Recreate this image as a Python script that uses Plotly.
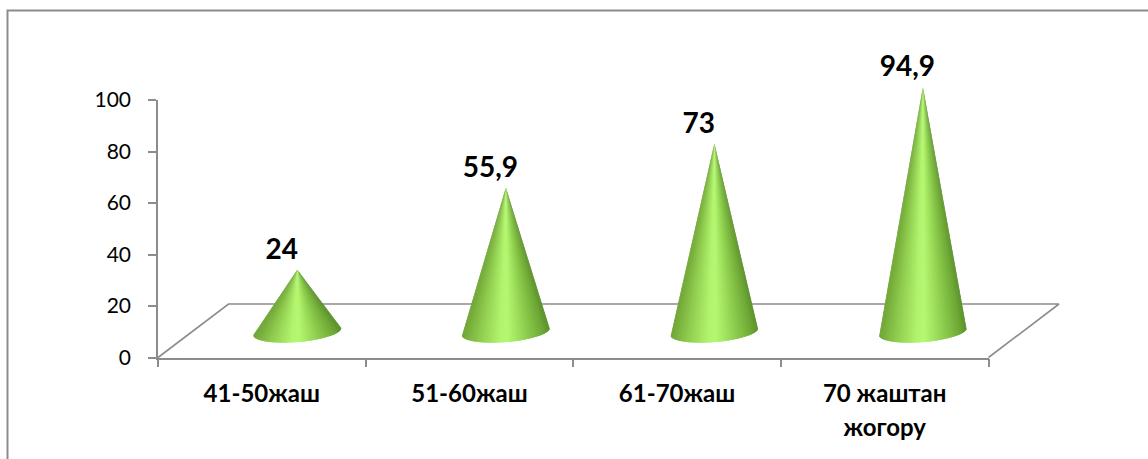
import math
import plotly.graph_objects as go

categories = ["41-50жаш", "51-60жаш", "61-70жаш", "70 жаштан"]
categories_line2 = ["", "", "", "жогору"]
values = [24, 55.9, 73, 94.9]
value_labels = ["24", "55,9", "73", "94,9"]
y_ticks = [0, 20, 40, 60, 80, 100]

W, H = 1148, 459
L, R, T, B = 158.0, 988.5, 100.0, 357.5
PX_X = (R - L) / 4
PX_Y = (B - T) / 100
GRAY = "#8c8c8c"
FONT = "Lato, Carlito, Calibri, sans-serif"

STOPS = [(-1.0, (112, 165, 54)), (-0.65, (140, 200, 76)), (-0.12, (178, 245, 110)),
         (0.05, (180, 247, 112)), (0.5, (140, 204, 76)), (0.85, (110, 168, 54)), (1.0, (92, 144, 44))]


def shade(t):
    for (a, ca), (b, cb) in zip(STOPS, STOPS[1:]):
        if t <= b:
            f = (t - a) / (b - a)
            return "rgb(%d,%d,%d)" % tuple(round(p + (q - p) * f) for p, q in zip(ca, cb))
    return "rgb(92,144,44)"


fig = go.Figure()

# keeps the visible axes alive
fig.add_trace(go.Scatter(x=[0.5, 1.5, 2.5, 3.5], y=values, mode="none", hoverinfo="skip", showlegend=False))

# 3-D floor (full-page axes with the same data units as the visible axes)
bx, by = 70.5 / PX_X, 53.5 / PX_Y
fig.add_trace(go.Scatter(x=[0, bx, 4 + bx, 4], y=[0, by, by, 0], mode="lines", xaxis="x3", yaxis="y3",
                         line=dict(color=GRAY, width=1.6), hoverinfo="skip", showlegend=False))

# cones
base_y = 25.9 / PX_Y
off_x = 35.5 / PX_X
step_x = 0.9 / PX_X
a_x, a_y, b_y = 44 / PX_X, 3.5 / PX_Y, 10.5 / PX_Y
N = 60
for i, v in enumerate(values):
    cx = i + 0.5 + off_x + i * step_x
    ax, ay = cx, base_y + v
    for k in range(N):
        # each slice runs one step past its end so that the next one covers the seam
        t0, t1 = math.pi * k / N, math.pi * min(k + 2, N) / N
        p0 = (cx + a_x * math.cos(t0), base_y + a_y * math.cos(t0) - b_y * math.sin(t0))
        p1 = (cx + a_x * math.cos(t1), base_y + a_y * math.cos(t1) - b_y * math.sin(t1))
        c = shade(math.cos(math.pi * (k + 0.5) / N))
        fig.add_trace(go.Scatter(x=[ax, p0[0], p1[0], ax], y=[ay, p0[1], p1[1], ay], mode="lines",
                                 xaxis="x3", yaxis="y3",
                                 fill="toself", fillcolor=c, line=dict(color=c, width=0),
                                 hoverinfo="skip", showlegend=False))

# value labels
fig.add_trace(go.Scatter(x=[i + 0.5 + off_x + i * step_x - 15.5 / PX_X for i in range(4)],
                         y=[base_y + v + 1.5 for v in values], mode="text", text=value_labels,
                         xaxis="x3", yaxis="y3", textposition="top center",
                         textfont=dict(family=FONT, size=28, color="#000000"),
                         texttemplate="<b>%{text}</b>", hoverinfo="skip", showlegend=False))

# second line of the category labels
fig.add_trace(go.Scatter(x=[0.5, 1.5, 2.5, 3.5], y=[(B - 430) / PX_Y] * 4, mode="text", text=categories_line2,
                         xaxis="x3", yaxis="y3", textposition="middle center",
                         textfont=dict(family=FONT, size=24, color="#000000"),
                         texttemplate="<b>%{text}</b>", hoverinfo="skip", showlegend=False))

# carries the category labels on the second x axis
fig.add_trace(go.Scatter(x=[0.5, 1.5, 2.5, 3.5], y=[0, 0, 0, 0], xaxis="x2", mode="none",
                         hoverinfo="skip", showlegend=False))

dom_x = [L / W, R / W]
dom_y = [1 - B / H, 1 - T / H]
fig.update_layout(
    width=W, height=H, autosize=False, paper_bgcolor="white", plot_bgcolor="rgba(0,0,0,0)",
    margin=dict(l=0, r=0, t=0, b=0, pad=0),
    xaxis=dict(domain=dom_x, range=[0, 4], tickmode="array", tickvals=[0, 1, 2, 3, 4], ticktext=[""] * 5,
               ticks="outside", ticklen=8, tickwidth=1.5, tickcolor=GRAY, showline=True, automargin=False,
               linecolor=GRAY, linewidth=1.5, showgrid=False, zeroline=False),
    xaxis2=dict(domain=dom_x, range=[0, 4], overlaying="x", side="bottom", anchor="y", tickmode="array",
                tickvals=[0.5, 1.5, 2.5, 3.5], ticktext=["<b>%s</b>" % c for c in categories],
                ticks="", ticklabelstandoff=19, showgrid=False, zeroline=False, showline=False, automargin=False,
                tickfont=dict(family=FONT, size=24, color="#000000")),
    yaxis=dict(domain=dom_y, range=[0, 100], tickmode="array", tickvals=y_ticks, ticks="outside", ticklen=8,
               tickwidth=1.5, tickcolor=GRAY, showline=True, linecolor=GRAY, linewidth=1.5, automargin=False,
               showgrid=False, zeroline=False, ticklabelstandoff=13,
               tickfont=dict(family=FONT, size=21, color="#000000")),
    xaxis3=dict(domain=[0, 1], range=[-L / PX_X, (W - L) / PX_X], anchor="y3", visible=False,
                automargin=False),
    yaxis3=dict(domain=[0, 1], range=[-(H - B) / PX_Y, B / PX_Y], anchor="x3", visible=False,
                automargin=False),
    shapes=[dict(type="path", xref="paper", yref="paper",
                 path="M %f %f L %f %f L %f %f" % (7.5 / W, -0.02, 7.5 / W, 1 - 10.5 / H, 1.01, 1 - 10.5 / H),
                 line=dict(color=GRAY, width=2))],
)

fig.write_html("out.html", post_script="document.body.style.margin='0';", config={"displayModeBar": False})
